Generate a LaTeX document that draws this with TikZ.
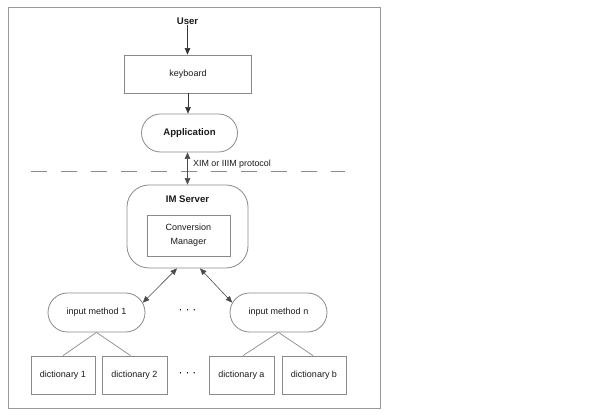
\documentclass[tikz,border=0pt]{standalone}
\usepackage{fontspec}
\setmainfont{Liberation Sans}
\usetikzlibrary{arrows.meta,shapes.misc}
\definecolor{boxline}{HTML}{8A8A8A}
\definecolor{frameline}{HTML}{9A9A9A}
\definecolor{txt}{HTML}{1A1A1A}
\begin{document}
\begin{tikzpicture}[x=1pt,y=-1pt,
  every node/.style={text=txt,font=\fontsize{9}{11}\selectfont,inner sep=0pt},
  boldlabel/.style={font=\fontsize{9.6}{11}\selectfont\bfseries},
  sqbox/.style={draw=boxline,line width=0.8pt,rectangle,align=center},
  pill/.style={draw=boxline,line width=0.8pt,rounded rectangle,align=center},
  link/.style={draw=boxline,line width=0.7pt},
  arr/.style={draw=black!80,line width=0.6pt,-{Triangle[length=6.5pt,width=5.5pt]}},
  darr/.style={draw=black!70,line width=0.6pt,{Triangle[length=6.5pt,width=5.5pt]}-{Triangle[length=6.5pt,width=5.5pt]}},
  dots/.style={font=\fontsize{12}{12}\selectfont,text=black}
]
\useasboundingbox (0,0) rectangle (606,419);
\node[draw=frameline,line width=0.8pt,rectangle,minimum width=372pt,minimum height=401pt] (frame) at (194,207.5) {};

\node[boldlabel] (user) at (187.5,21) {User};
\node[sqbox,minimum width=127pt,minimum height=38pt] (kb) at (188,74) {keyboard};
\node[pill,boldlabel,minimum width=96pt,minimum height=38pt] (app) at (189.5,133) {Application};
\node[draw=boxline,line width=0.8pt,rectangle,rounded corners=22pt,minimum width=121pt,minimum height=83pt] (im) at (187.5,226.5) {};
\node[boldlabel] (imlabel) at (187.5,199) {IM Server};
\node[sqbox,minimum width=83pt,minimum height=41pt,font=\fontsize{9}{14}\selectfont] (conv) at (188.5,235.5) {Conversion\\Manager};

\node[pill,minimum width=97pt,minimum height=39pt] (im1) at (96.5,312.5) {input method 1};
\node[pill,minimum width=97pt,minimum height=39pt] (imn) at (278.5,312.5) {input method n};
\node[dots] (dotsa) at (187.5,312) {·\hspace{3pt}·\hspace{3pt}·};

\node[sqbox,minimum width=64pt,minimum height=38pt] (d1) at (63,375) {dictionary 1};
\node[sqbox,minimum width=65pt,minimum height=38pt] (d2) at (134.5,375) {dictionary 2};
\node[sqbox,minimum width=65pt,minimum height=38pt] (da) at (241.5,375) {dictionary a};
\node[sqbox,minimum width=64pt,minimum height=38pt] (db) at (314,375) {dictionary b};
\node[dots] (dotsb) at (187.5,375) {·\hspace{3pt}·\hspace{3pt}·};

% dashed boundary
\coordinate (dl) at (31,171);
\coordinate (dr) at (345,171);
\draw[draw=boxline,line width=0.7pt,dash pattern=on 16pt off 14pt] (dl) -- (dr);

\node[anchor=south west,font=\fontsize{8.9}{10}\selectfont] (proto) at (193,169) {XIM or IIIM protocol};

% connectors
\draw[arr] (user.south) -- (user.south |- kb.north);
\draw[arr] (kb.south) -- (kb.south |- app.north);
\draw[darr] (app.south -| user.south) -- (im.north -| user.south);
\draw[darr] ([xshift=-10.5pt]im.south) -- (im1.12);
\draw[darr] ([xshift=12.5pt]im.south) -- (imn.168);

\draw[link] (im1.south) -- (d1.north);
\draw[link] (im1.south) -- ([xshift=-4pt]d2.north);
\draw[link] (imn.south) -- ([xshift=1.5pt]da.north);
\draw[link] (imn.south) -- ([xshift=-1pt]db.north);
\end{tikzpicture}
\end{document}
